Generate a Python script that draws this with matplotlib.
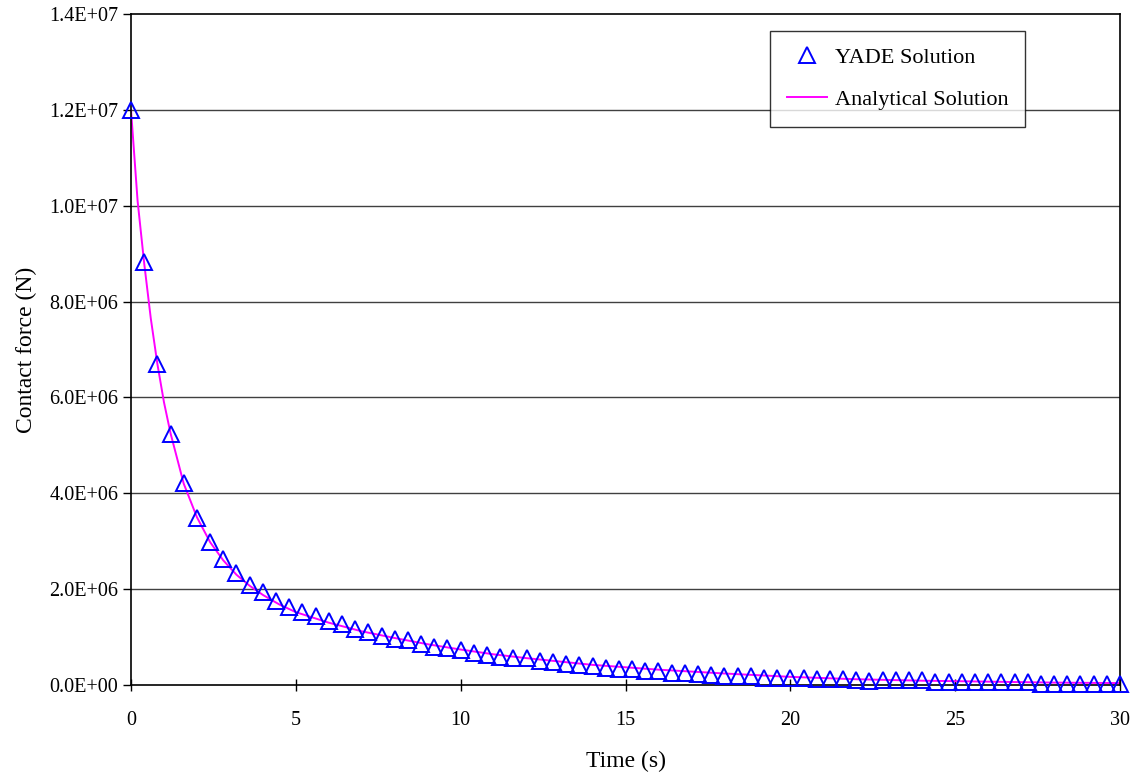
import matplotlib
matplotlib.use("Agg")
import matplotlib.pyplot as plt
from matplotlib.ticker import FuncFormatter

# YADE solution: time (s) and contact force (N, in units of 1e6)
yade_t = [0.0, 0.4, 0.8, 1.2, 1.6, 2.0, 2.4, 2.8, 3.2, 3.6, 4.0, 4.4, 4.8, 5.2, 5.6,
          6.0, 6.4, 6.8, 7.2, 7.6, 8.0, 8.4, 8.8, 9.2, 9.6, 10.0, 10.4, 10.8, 11.2, 11.6,
          12.0, 12.4, 12.8, 13.2, 13.6, 14.0, 14.4, 14.8, 15.2, 15.6, 16.0, 16.4, 16.8,
          17.2, 17.6, 18.0, 18.4, 18.8, 19.2, 19.6, 20.0, 20.4, 20.8, 21.2, 21.6, 22.0,
          22.4, 22.8, 23.2, 23.6, 24.0, 24.4, 24.8, 25.2, 25.6, 26.0, 26.4, 26.8, 27.2,
          27.6, 28.0, 28.4, 28.8, 29.2, 29.6, 30.0]
yade_f = [12.0, 8.82, 6.69, 5.23, 4.22, 3.48, 2.99, 2.63, 2.33, 2.09, 1.93, 1.76, 1.63, 1.53, 1.44,
          1.34, 1.27, 1.17, 1.11, 1.03, 0.97, 0.93, 0.85, 0.80, 0.77, 0.74, 0.67, 0.63, 0.59, 0.57,
          0.56, 0.50, 0.47, 0.44, 0.42, 0.40, 0.36, 0.33, 0.33, 0.29, 0.29, 0.26, 0.26,
          0.22, 0.21, 0.19, 0.19, 0.19, 0.15, 0.15, 0.15, 0.14, 0.13, 0.13, 0.13, 0.10,
          0.09, 0.10, 0.10, 0.10, 0.10, 0.06, 0.06, 0.06, 0.06, 0.06, 0.06, 0.06, 0.06,
          0.03, 0.03, 0.03, 0.03, 0.03, 0.03, 0.03]

# Analytical solution
ana_t = [0.0, 0.2, 0.4, 0.6, 0.8, 1.0, 1.2, 1.6, 2.0, 2.4, 2.8, 3.2, 3.6, 4.0, 4.5, 5.0,
         6.0, 7.0, 8.0, 9.0, 10.0, 11.0, 12.0, 13.0, 14.0, 15.0, 16.0, 18.0, 20.0, 22.0,
         24.0, 26.0, 28.0, 30.0]
ana_f = [12.0, 10.1, 8.8, 7.65, 6.7, 5.9, 5.25, 4.2, 3.5, 2.98, 2.6, 2.3, 2.07, 1.88, 1.68, 1.52,
         1.30, 1.12, 0.98, 0.85, 0.74, 0.64, 0.56, 0.49, 0.42, 0.37, 0.32, 0.24, 0.17, 0.12,
         0.09, 0.07, 0.05, 0.04]

x_ticks = [0, 5, 10, 15, 20, 25, 30]
y_ticks = [0, 2e6, 4e6, 6e6, 8e6, 1.0e7, 1.2e7, 1.4e7]

plt.rcParams['font.family'] = ['Liberation Serif', 'DejaVu Serif']

fig = plt.figure(figsize=(11.37, 7.77), dpi=100)
ax = fig.add_axes([131/1137, 1 - 685/777, (1120 - 131)/1137, (685 - 14)/777])

ax.plot(ana_t, [f * 1e6 for f in ana_f], color='#FF00FF', lw=1.4,
        label='Analytical Solution', zorder=2)
ax.plot(yade_t, [f * 1e6 for f in yade_f], linestyle='none', marker='^', markersize=12,
        markerfacecolor='none', markeredgecolor='#0000FF', markeredgewidth=1.4,
        label='YADE Solution', zorder=3, clip_on=False)

ax.set_xlim(0, 30)
ax.set_ylim(0, 1.4e7)
ax.set_xticks(x_ticks)
ax.set_yticks(y_ticks)
ax.yaxis.set_major_formatter(FuncFormatter(
    lambda v, p: ("%.1E" % v) if v != 0 else "0.0E+00"))
ax.tick_params(axis='x', direction='inout', length=9, width=1, labelsize=14.5, pad=14)
ax.tick_params(axis='y', direction='out', length=6, width=1, labelsize=14.5, pad=3)

for yv in y_ticks[1:-1]:
    ax.axhline(yv, color='#404040', lw=1.0, zorder=1)

for s in ax.spines.values():
    s.set_linewidth(1.2)
    s.set_color('black')

ax.set_xlabel('Time (s)', fontsize=17, labelpad=15)
ax.set_ylabel('Contact force (N)', fontsize=17, labelpad=9)

handles, labels = ax.get_legend_handles_labels()
leg = ax.legend(handles[::-1], labels[::-1], loc='upper right',
                bbox_to_anchor=((1025 - 131)/989, (685 - 31)/671),
                fontsize=16, frameon=True, fancybox=False, shadow=False,
                edgecolor='black', borderpad=0.75, labelspacing=0.95,
                handlelength=1.8, handletextpad=0.35, borderaxespad=0)
leg.get_frame().set_linewidth(1.0)

fig.savefig('out.png', dpi=100)
